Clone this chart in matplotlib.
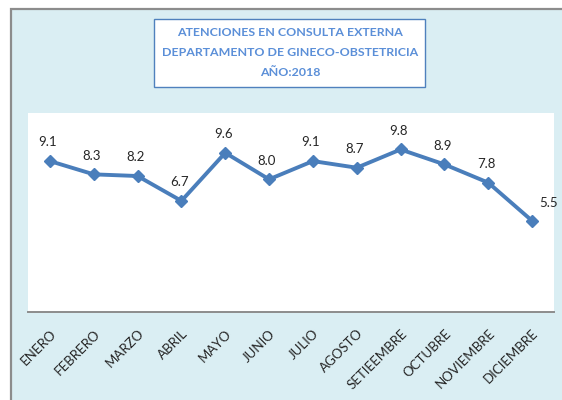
import matplotlib.pyplot as plt
from matplotlib.patches import Rectangle

months = ['ENERO', 'FEBRERO', 'MARZO', 'ABRIL', 'MAYO', 'JUNIO', 'JULIO',
          'AGOSTO', 'SETIEEMBRE', 'OCTUBRE', 'NOVIEMBRE', 'DICIEMBRE']
values = [9.1, 8.3, 8.2, 6.7, 9.6, 8.0, 9.1, 8.7, 9.8, 8.9, 7.8, 5.5]
title_lines = ['ATENCIONES EN CONSULTA EXTERNA',
               'DEPARTAMENTO DE GINECO-OBSTETRICIA',
               'AÑO:2018']

plt.rcParams['font.family'] = ['Lato', 'DejaVu Sans']

fig = plt.figure(figsize=(5.62, 4.0), dpi=100)
fig.patch.set_facecolor('white')

# light blue chart background with grey frame (left and top edges visible)
bg = Rectangle((11 / 562, -0.05), 1.1, 1 - 8.5 / 400 + 0.05, transform=fig.transFigure,
               facecolor='#DAEEF3', edgecolor='#8C8C8C', linewidth=1.6, zorder=0)
fig.patches.append(bg)

ax = fig.add_axes([28 / 562, 1 - 312 / 400, 526 / 562, 199 / 400])
ax.set_zorder(3)
ax.set_facecolor('white')

x = list(range(len(months)))
ax.plot(x, values, color='#4A7EBB', linewidth=2.8, marker='D', markersize=6.5,
        markerfacecolor='#4A7EBB', markeredgecolor='#4A7EBB', zorder=3)

for i, v in enumerate(values):
    if i == len(values) - 1:
        ax.annotate(f'{v:.1f}', (i, v), xytext=(12, 13), textcoords='offset points',
                    ha='center', va='center', fontsize=9.5, color='#262626')
    else:
        ax.annotate(f'{v:.1f}', (i, v), xytext=(-1.5, 13.5), textcoords='offset points',
                    ha='center', va='center', fontsize=9.5, color='#262626')

ax.set_xlim(-0.5, len(months) - 0.5)
ax.set_ylim(0, 12)
ax.set_yticks([])
ax.set_xticks(x)
ax.set_xticklabels(months, rotation=45, ha='right', rotation_mode='anchor',
                   fontsize=9.5, color='#262626')
ax.tick_params(axis='x', length=0, pad=11)
for side in ['top', 'right', 'left']:
    ax.spines[side].set_visible(False)
ax.spines['bottom'].set_color('#8C8C8C')
ax.spines['bottom'].set_linewidth(1.4)

# title box
box = Rectangle((154 / 562, 1 - 87 / 400), 271 / 562, 68 / 400, transform=fig.transFigure,
                facecolor='white', edgecolor='#4F81BD', linewidth=1.0, zorder=1)
fig.patches.append(box)
for k, line in enumerate(title_lines):
    fig.text(290 / 562, 1 - (33 + 20 * k) / 400, line, ha='center', va='center',
             fontsize=8.9, fontweight='bold', color='#5B8FD8', zorder=2)

fig.savefig('out.png', dpi=100, facecolor='white')
